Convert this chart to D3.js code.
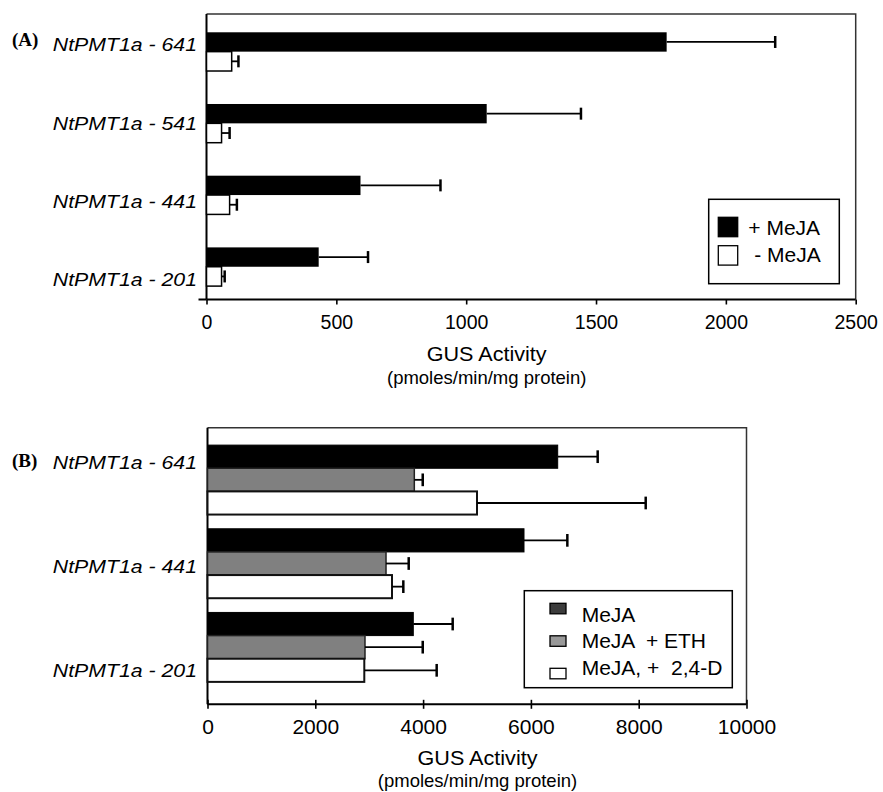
<!DOCTYPE html>
<html>
<head>
<meta charset="utf-8">
<script src="https://cdn.jsdelivr.net/npm/d3@7"></script>
<style>
  body { margin: 0; background: #fff; }
  svg { display: block; font-family: "Liberation Sans", Arial, Helvetica, sans-serif; }
  text { white-space: pre; }
</style>
</head>
<body>
<div id="chart"></div>
<script>
// ---- Panel A data ----
const constructsA = ['NtPMT1a - 641', 'NtPMT1a - 541', 'NtPMT1a - 441', 'NtPMT1a - 201'];
const seriesA = ['+ MeJA', ' - MeJA'];
const plusMeJA = [1772, 1079, 593, 432];
const plusMeJAErr = [418, 363, 308, 190];
const minusMeJA = [97, 58, 89, 58];
const minusMeJAErr = [26, 31, 28, 12];
const ticksA = [0, 500, 1000, 1500, 2000, 2500];

// ---- Panel B data ----
const constructsB = ['NtPMT1a - 641', 'NtPMT1a - 441', 'NtPMT1a - 201'];
const seriesB = ['MeJA', 'MeJA  + ETH', 'MeJA, +  2,4-D'];
const meJA = [6497, 5872, 3818];
const meJAErr = [742, 804, 731];
const meJAEth = [3837, 3312, 2922];
const meJAEthErr = [156, 421, 1071];
const meJA24D = [5000, 3423, 2909];
const meJA24DErr = [3130, 210, 1343];
const ticksB = [0, 2000, 4000, 6000, 8000, 10000];

const axisTitle = 'GUS Activity';
const axisUnits = '(pmoles/min/mg protein)';

class GroupedHBar {
    constructor(_config, _data) {
        this.config = _config;
        this.data = _data;
        this.initVis();
    }

    initVis() {
        let vis = this;
        const c = vis.config;

        vis.xScale = d3.scaleLinear().domain(c.domain).range(c.xRange);
        vis.yScale = d3.scaleBand()
            .domain(vis.data.categories)
            .range(c.bandRange)
            .paddingInner(c.paddingInner)
            .paddingOuter(c.paddingOuter);
        vis.subScale = d3.scaleBand()
            .domain(vis.data.series.map(s => s.name))
            .range([0, vis.yScale.bandwidth()]);
        // category labels sit on their own even spacing
        vis.labelScale = d3.scalePoint()
            .domain(vis.data.categories)
            .range(c.labelRange);

        vis.xAxis = d3.axisBottom(vis.xScale)
            .tickValues(c.ticks)
            .tickFormat(d3.format('d'))
            .tickSize(c.tickSize)
            .tickSizeOuter(0)
            .tickPadding(c.tickPadding);

        vis.g = c.svg.append('g');
        vis.frameG = vis.g.append('g');
        vis.barsG = vis.g.append('g');
        vis.errG = vis.g.append('g');
        vis.xAxisG = vis.g.append('g')
            .attr('transform', `translate(0,${c.axisY})`);
        vis.labelG = vis.g.append('g');
        vis.legendG = vis.g.append('g');

        vis.updateVis();
    }

    updateVis() {
        let vis = this;
        vis.rows = vis.data.categories.map((cat, i) => ({
            category: cat,
            values: vis.data.series.map((s, j) => ({
                series: s.name, idx: j, value: s.values[i], err: s.errors[i]
            }))
        }));
        vis.renderVis();
    }

    renderVis() {
        let vis = this;
        const c = vis.config;
        const x = vis.xScale;
        const x0 = x(c.domain[0]), x1 = x(c.domain[1]);

        // frame: thin top and right, heavy left
        vis.frameG.append('path')
            .attr('d', `M${x0},${c.top}H${x1}V${c.axisY}`)
            .attr('fill', 'none')
            .attr('stroke', '#333')
            .attr('stroke-width', 1.5);
        vis.frameG.append('line')
            .attr('x1', x0).attr('x2', x0)
            .attr('y1', c.top).attr('y2', c.axisY)
            .attr('stroke', '#000')
            .attr('stroke-width', 2);
        if (c.stub) {
            vis.frameG.append('line')
                .attr('x1', x0 - 8).attr('x2', x0)
                .attr('y1', c.axisY).attr('y2', c.axisY)
                .attr('stroke', '#000')
                .attr('stroke-width', 2);
        }

        const groups = vis.barsG.selectAll('.group')
            .data(vis.rows)
            .join('g')
            .attr('class', 'group')
            .attr('transform', d => `translate(0,${vis.yScale(d.category)})`);

        groups.selectAll('.bar')
            .data(d => d.values)
            .join('rect')
            .attr('class', 'bar')
            .attr('x', x0)
            .attr('y', d => vis.subScale(d.series))
            .attr('width', d => x(d.value) - x0)
            .attr('height', vis.subScale.bandwidth())
            .attr('fill', d => c.fills[d.idx])
            .attr('stroke', d => c.strokes[d.idx])
            .attr('stroke-width', d => c.strokeWidths[d.idx]);

        // error bars
        const bw = vis.subScale.bandwidth();
        const capH = bw * c.capRatio;
        const errs = vis.errG.selectAll('.err')
            .data(vis.rows)
            .join('g')
            .attr('class', 'err')
            .attr('transform', d => `translate(0,${vis.yScale(d.category)})`)
            .selectAll('g')
            .data(d => d.values)
            .join('g');
        errs.append('line')
            .attr('x1', d => x(d.value))
            .attr('x2', d => x(d.value + d.err))
            .attr('y1', d => vis.subScale(d.series) + bw / 2)
            .attr('y2', d => vis.subScale(d.series) + bw / 2)
            .attr('stroke', '#000')
            .attr('stroke-width', 1.8);
        errs.append('line')
            .attr('x1', d => x(d.value + d.err))
            .attr('x2', d => x(d.value + d.err))
            .attr('y1', d => vis.subScale(d.series) + bw / 2 - capH / 2)
            .attr('y2', d => vis.subScale(d.series) + bw / 2 + capH / 2)
            .attr('stroke', '#000')
            .attr('stroke-width', 2.5);

        // x axis
        vis.xAxisG.call(vis.xAxis);
        vis.xAxisG.select('.domain')
            .attr('d', `M${x0},0H${x1}`)
            .attr('stroke', '#000')
            .attr('stroke-width', 2);
        vis.xAxisG.selectAll('.tick line')
            .attr('stroke', '#000')
            .attr('stroke-width', 1.6)
            .attr('y1', c.crossTicks ? -c.tickSize : 0);
        vis.xAxisG.selectAll('.tick text')
            .attr('fill', '#000')
            .style('font-size', c.tickFont + 'px')
            .style('font-family', '"Liberation Sans", Arial, sans-serif');

        // axis titles
        vis.labelG.append('text')
            .attr('transform', `translate(${c.titleX},${c.titleY}) scale(1.08,1)`)
            .attr('text-anchor', 'middle')
            .style('font-size', '20px')
            .text(axisTitle);
        vis.labelG.append('text')
            .attr('x', c.titleX)
            .attr('y', c.subY)
            .attr('text-anchor', 'middle')
            .style('font-size', '18.5px')
            .text(axisUnits);

        // category labels
        vis.labelG.selectAll('.cat')
            .data(vis.data.categories)
            .join('text')
            .attr('class', 'cat')
            .attr('transform', d => `translate(${c.labelX},${vis.labelScale(d) + 0.36 * c.labelFont}) scale(1.12,1)`)
            .attr('text-anchor', 'end')
            .style('font-size', c.labelFont + 'px')
            .style('font-style', 'italic')
            .text(d => d);

        // panel tag
        vis.labelG.append('text')
            .attr('x', 12)
            .attr('y', c.tagY)
            .style('font-family', '"Liberation Serif", "Times New Roman", serif')
            .style('font-weight', 'bold')
            .style('font-size', '19px')
            .text(c.tag);

        // legend
        const L = c.legend;
        vis.legendG.append('rect')
            .attr('x', L.x).attr('y', L.y)
            .attr('width', L.w).attr('height', L.h)
            .attr('fill', '#fff')
            .attr('stroke', '#000')
            .attr('stroke-width', 1.5);
        const items = vis.legendG.selectAll('.item')
            .data(vis.data.series)
            .join('g')
            .attr('class', 'item');
        items.append('rect')
            .attr('x', L.swatchX)
            .attr('y', (d, i) => L.swatchY0 + i * L.swatchStep)
            .attr('width', L.swatchW)
            .attr('height', L.swatchH)
            .attr('fill', (d, i) => L.fills[i])
            .attr('stroke', '#000')
            .attr('stroke-width', 1.3);
        items.append('text')
            .attr('x', L.textX)
            .attr('y', (d, i) => L.textY0 + i * L.textStep)
            .style('font-size', L.font + 'px')
            .text(d => d.name);
    }
}

const svg = d3.select('#chart').append('svg')
    .attr('width', 883)
    .attr('height', 792);

const chartA = new GroupedHBar({
    svg: svg,
    top: 14, axisY: 299.5,
    domain: [0, 2500], xRange: [206.5, 855.7],
    bandRange: [15.8, 302.6], paddingInner: 0.46, paddingOuter: 0.23,
    ticks: ticksA, tickSize: 5, crossTicks: false, tickPadding: 10.5, tickFont: 19.5,
    labelRange: [44.5, 279.3], labelX: 197, labelFont: 19,
    tag: '(A)', tagY: 46,
    titleX: 486.7, titleY: 361, subY: 384,
    fills: ['#000', '#fff'], strokes: ['none', '#000'], strokeWidths: [0, 1.5],
    capRatio: 0.62, stub: true,
    legend: {
        x: 708.7, y: 199.3, w: 130.6, h: 84.4,
        swatchX: 718.3, swatchW: 19.4, swatchH: 19.4, swatchY0: 217.3, swatchStep: 28.4,
        textX: 748.3, textY0: 234.5, textStep: 27.2, font: 21,
        fills: ['#000', '#fff']
    }
}, {
    categories: constructsA,
    series: [
        {name: seriesA[0], values: plusMeJA, errors: plusMeJAErr},
        {name: seriesA[1], values: minusMeJA, errors: minusMeJAErr}
    ]
});

const chartB = new GroupedHBar({
    svg: svg,
    top: 427.7, axisY: 704.3,
    domain: [0, 10000], xRange: [207.5, 746.5],
    bandRange: [438, 689], paddingInner: 0.17, paddingOuter: 0.085,
    ticks: ticksB, tickSize: 4.5, crossTicks: true, tickPadding: 10.5, tickFont: 21,
    labelRange: [462, 670.3], labelX: 197, labelFont: 19,
    tag: '(B)', tagY: 467,
    titleX: 477.5, titleY: 765, subY: 787,
    fills: ['#000', '#808080', '#fff'], strokes: ['#000', '#222', '#111'], strokeWidths: [1, 1.5, 2],
    capRatio: 0.55, stub: false,
    legend: {
        x: 524.3, y: 590.7, w: 208, h: 97,
        swatchX: 550, swatchW: 16, swatchH: 10.5, swatchY0: 603.3, swatchStep: 32.5,
        textX: 581.7, textY0: 621.7, textStep: 26.65, font: 21,
        fills: ['#3c3c3c', '#999', '#fff']
    }
}, {
    categories: constructsB,
    series: [
        {name: seriesB[0], values: meJA, errors: meJAErr},
        {name: seriesB[1], values: meJAEth, errors: meJAEthErr},
        {name: seriesB[2], values: meJA24D, errors: meJA24DErr}
    ]
});
</script>
</body>
</html>
